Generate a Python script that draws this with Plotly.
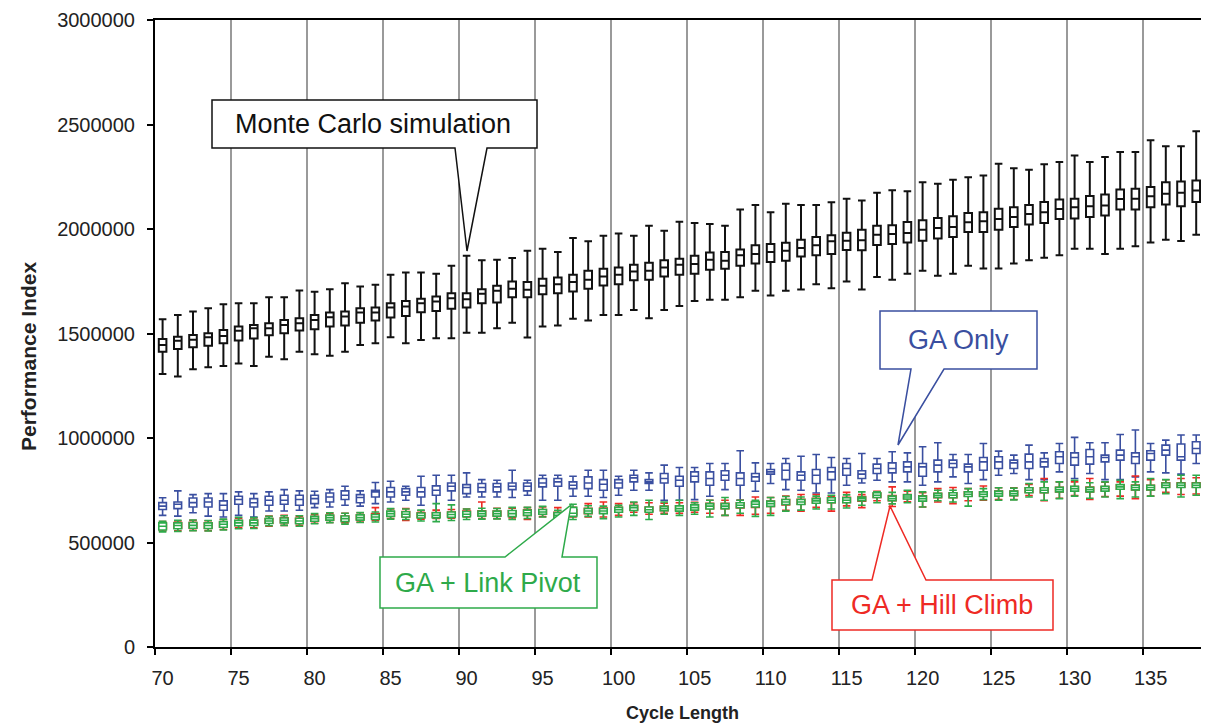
import plotly.graph_objects as go
import numpy as np

# Cycle lengths (categories)
cycle = list(range(70, 140))
tick_vals = list(range(70, 140, 5))
tick_text = [str(v) for v in tick_vals]
y_ticks = [0, 500000, 1000000, 1500000, 2000000, 2500000, 3000000]

# ---- Values in thousands (Performance Index / 1000) ----
# Monte Carlo simulation (black)
mc_min = [1306,1294,1329,1338,1345,1357,1345,1389,1377,1413,1401,1393,1413,1445,1453,1482,1453,1469,1477,1477,
          1504,1504,1525,1552,1481,1533,1538,1570,1562,1589,1589,1613,1573,1613,1632,1656,1661,1661,1674,1704,
          1682,1704,1711,1736,1717,1749,1710,1770,1757,1786,1800,1776,1786,1824,1811,1811,1835,1850,1863,1874,
          1906,1906,1880,1906,1917,1936,1949,1942,1973,2002]
mc_q1 = [1413,1426,1434,1441,1453,1466,1476,1492,1501,1514,1520,1533,1538,1552,1562,1576,1584,1602,1608,1618,
         1624,1645,1648,1674,1674,1688,1693,1701,1714,1730,1736,1755,1757,1773,1781,1786,1805,1810,1824,1835,
         1842,1848,1869,1874,1880,1899,1898,1923,1928,1936,1944,1954,1962,1986,1986,1997,2010,2021,2029,2048,
         2050,2058,2064,2093,2093,2104,2117,2109,2129,2145]
mc_med = [1445,1465,1470,1482,1488,1513,1525,1525,1541,1549,1565,1578,1581,1600,1600,1624,1629,1645,1653,1669,
          1664,1690,1705,1714,1709,1728,1736,1746,1757,1773,1781,1797,1800,1816,1829,1832,1853,1848,1874,1880,
          1890,1896,1909,1922,1941,1944,1946,1973,1976,1981,1997,2005,2010,2032,2037,2048,2058,2072,2080,2096,
          2104,2109,2112,2144,2145,2157,2169,2173,2184,2205]
mc_q3 = [1474,1485,1493,1501,1517,1533,1541,1549,1565,1573,1589,1600,1605,1621,1624,1645,1656,1666,1677,1693,
         1693,1712,1728,1749,1746,1762,1768,1781,1800,1810,1816,1829,1839,1851,1858,1872,1888,1890,1902,1922,
         1928,1934,1949,1962,1970,1982,1997,2016,2018,2034,2042,2053,2061,2077,2080,2097,2104,2115,2129,2141,
         2145,2158,2165,2189,2193,2201,2224,2227,2232,2253]
mc_max = [1568,1589,1605,1621,1640,1645,1645,1674,1674,1706,1700,1712,1741,1725,1733,1781,1792,1792,1786,1824,
          1872,1850,1853,1861,1896,1906,1890,1957,1941,1968,1979,1968,2016,1992,2035,2029,2024,2016,2093,2115,
          2080,2121,2115,2115,2128,2145,2136,2173,2185,2181,2224,2216,2236,2248,2256,2312,2291,2284,2310,2321,
          2352,2321,2345,2369,2369,2425,2396,2396,2468,2409]

# GA Only (blue)
ga_min = [630,626,642,626,622,630,622,651,651,654,667,670,678,674,686,694,702,678,638,702,
          718,718,718,715,726,702,702,721,721,715,726,750,750,702,702,705,721,753,702,745,
          782,753,750,737,737,774,785,798,790,790,774,790,814,782,801,822,830,801,801,838,
          806,830,801,801,814,838,833,827,878,870]
ga_q1 = [658,662,670,670,654,683,670,678,683,678,686,694,706,690,718,718,726,718,726,747,
         734,742,742,753,747,766,769,758,758,750,761,790,782,785,769,790,774,798,774,793,
         827,801,798,782,801,822,806,830,833,838,817,838,859,838,846,854,854,854,862,878,
         870,875,886,894,878,894,918,894,926,913]
ga_med = [674,683,691,694,678,706,690,702,702,706,710,718,726,715,742,742,742,742,750,769,
          763,763,766,769,769,785,790,774,785,779,785,809,790,806,798,817,806,822,806,814,
          838,846,822,822,838,854,827,854,854,862,862,870,878,862,886,886,881,886,886,910,
          907,910,907,918,910,926,942,910,950,942]
ga_q3 = [691,694,713,713,699,721,710,721,726,726,726,737,747,729,750,763,758,763,771,785,
         777,782,782,785,785,806,806,790,814,801,801,822,801,830,817,838,838,843,833,830,
         849,878,838,849,859,878,843,875,881,886,878,894,894,875,907,910,894,923,902,934,
         929,945,918,942,929,939,966,971,982,958]
ga_max = [714,747,729,734,734,742,734,742,753,747,745,753,769,747,787,793,769,817,822,822,
          833,801,798,846,798,822,822,817,846,846,817,846,833,870,859,859,878,878,939,881,
          878,902,913,921,907,902,926,902,934,929,958,977,921,921,974,937,918,966,929,974,
          1003,977,977,1017,1038,974,990,1014,1014,998]

# GA + Link Pivot (green)
lp_min = [551,553,556,555,560,566,567,580,582,578,590,595,588,596,598,612,610,603,600,605,
          610,612,613,610,615,622,606,610,625,614,622,630,610,635,630,635,622,630,640,625,
          630,650,655,660,660,665,678,690,685,690,670,700,694,674,705,702,704,718,702,710,
          722,712,718,710,718,722,734,718,726,758]
lp_q1 = [560,566,568,567,573,580,581,591,594,590,602,607,600,607,610,625,622,617,618,620,
         623,626,626,624,630,635,618,625,639,638,645,653,645,652,650,655,660,662,666,670,
         673,682,682,688,690,690,700,715,700,708,698,716,714,720,720,722,724,738,738,742,
         746,742,746,755,752,752,763,763,763,779]
lp_med = [578,581,582,581,587,594,594,603,606,603,614,619,614,619,622,638,635,629,630,634,
          635,638,638,638,642,646,630,640,651,651,657,667,657,662,662,667,674,674,678,683,
          686,694,694,699,702,702,710,726,710,718,710,726,726,731,731,734,734,750,750,753,
          758,753,758,766,763,763,774,774,774,790]
lp_q3 = [594,594,596,594,600,606,607,614,617,616,625,631,627,632,634,650,647,641,642,646,
         648,650,650,653,655,658,643,668,663,663,668,677,670,673,675,680,686,686,690,695,
         698,706,706,710,714,714,718,738,722,728,722,736,738,742,742,746,746,762,762,764,
         769,764,769,777,774,774,785,785,785,801]
lp_max = [602,606,608,605,612,620,619,625,628,628,638,642,640,643,646,662,660,655,686,680,
          660,664,663,668,668,673,654,683,676,674,678,694,702,694,702,690,702,715,702,702,
          715,720,718,722,726,728,742,742,740,750,742,750,750,758,758,762,760,782,790,790,
          798,786,790,798,790,806,801,822,822,838]

# GA + Hill Climb (red)
hc_min = [555,556,558,557,562,570,570,578,582,582,592,596,594,598,605,615,606,612,615,616,
          622,614,614,618,610,624,612,622,622,622,630,645,635,640,640,645,640,630,630,635,
          640,654,650,668,650,675,667,700,672,695,670,694,686,700,702,706,706,725,700,712,
          725,706,720,722,710,722,740,730,732,762]
hc_q1 = [565,568,570,569,574,582,583,592,595,593,603,608,604,610,616,626,622,620,621,624,
         630,628,627,628,630,636,620,632,638,640,646,656,648,652,653,656,662,662,665,668,
         672,680,683,690,690,692,698,715,700,710,700,714,714,722,722,724,724,740,738,742,
         746,742,748,755,752,752,764,764,764,780]
hc_med = [580,582,583,582,588,595,596,604,608,605,615,620,616,621,627,638,636,631,632,636,
          640,640,640,640,643,647,632,644,652,653,657,667,658,663,664,668,675,675,678,684,
          687,694,695,700,703,704,710,726,712,720,712,726,726,732,731,735,734,751,751,753,
          758,754,758,766,764,764,775,775,776,792]
hc_q3 = [592,595,595,594,598,605,606,614,618,616,624,630,626,631,638,648,648,642,643,646,
         650,652,651,652,656,658,645,656,664,665,668,678,670,674,676,680,688,688,690,696,
         698,706,707,712,714,716,720,736,725,730,724,736,738,742,742,746,746,762,762,764,
         768,765,768,776,775,774,786,786,786,802]
hc_max = [600,604,606,604,610,616,618,626,630,626,634,640,640,642,667,660,662,652,655,658,
          660,694,664,664,667,670,667,668,686,694,686,690,690,688,690,692,702,702,702,718,
          715,722,730,730,722,740,730,745,766,745,738,758,763,758,770,762,762,778,806,790,
          790,806,788,790,818,800,800,806,810,830]

BLACK = "#111111"
BLUE = "#3A4FA0"
GREEN = "#2EAA4A"
RED = "#EE2A24"
FONT = "Liberation Sans, Arial, sans-serif"

series = [
    ("Monte Carlo simulation", mc_min, mc_q1, mc_med, mc_q3, mc_max, BLACK, 2.0),
    ("GA Only", ga_min, ga_q1, ga_med, ga_q3, ga_max, BLUE, 1.6),
    ("GA + Hill Climb", hc_min, hc_q1, hc_med, hc_q3, hc_max, RED, 1.6),
    ("GA + Link Pivot", lp_min, lp_q1, lp_med, lp_q3, lp_max, GREEN, 1.6),
]

fig = go.Figure()
for name, mn, q1, md, q3, mx, col, lw in series:
    k = 1000
    fig.add_trace(go.Box(
        name=name, x=cycle,
        lowerfence=list(np.array(mn) * k), q1=list(np.array(q1) * k),
        median=list(np.array(md) * k), q3=list(np.array(q3) * k),
        upperfence=list(np.array(mx) * k),
        width=0.5, whiskerwidth=1,
        line=dict(color=col, width=lw), fillcolor="white",
        boxpoints=False, hoverinfo="skip",
    ))

# Page offset (default body margin of the html page)
OFF = 8
W, H = 1209 - OFF, 725 - OFF
# plot area in page pixels: left 155, right 1209, top 20, bottom 647
L, R, T, B = 155, 1209, 20, 647

def px(xp):
    return (xp - L) / (R - L)
def py(yp):
    return (B - yp) / (B - T)
def path(points):
    return "M " + " L ".join(f"{px(a):.5f},{py(b):.5f}" for a, b in points) + " Z"

callouts = [
    ("Monte Carlo simulation", BLACK,
     [(212, 100), (537, 100), (537, 148), (487, 148), (467, 251), (455, 148), (212, 148)], (373, 124)),
    ("GA Only", BLUE,
     [(880, 311), (1037, 311), (1037, 369), (944, 369), (898, 445), (911, 369), (880, 369)], (958, 340)),
    ("GA + Link Pivot", GREEN,
     [(380, 557), (505, 557), (571, 505), (562, 557), (597, 557), (597, 608), (380, 608)], (488, 583)),
    ("GA + Hill Climb", RED,
     [(832, 580), (872, 580), (890, 506), (926, 580), (1053, 580), (1053, 630), (832, 630)], (942, 605)),
]

shapes = []
annotations = []
for text, col, pts, (tx, ty) in callouts:
    shapes.append(dict(type="path", path=path(pts), xref="paper", yref="paper",
                       fillcolor="white", line=dict(color=col, width=1.5), layer="above"))
    annotations.append(dict(text=text, x=px(tx), y=py(ty), xref="paper", yref="paper",
                            showarrow=False, xanchor="center", yanchor="middle",
                            font=dict(family=FONT, size=27, color=col)))

annotations.append(dict(text="<b>Cycle Length</b>", x=px(682), y=py(713), xref="paper", yref="paper",
                        showarrow=False, xanchor="center", yanchor="middle",
                        font=dict(family=FONT, size=18, color="#222")))
annotations.append(dict(text="<b>Performance Index</b>", x=px(28), y=py(357), xref="paper", yref="paper",
                        showarrow=False, xanchor="center", yanchor="middle", textangle=-90,
                        font=dict(family=FONT, size=21, color="#222")))

grid_vals = [v - 0.5 for v in tick_vals]

fig.update_layout(
    width=W, height=H,
    margin=dict(l=L - OFF, r=0, t=T - OFF, b=H - (B - OFF), pad=0),
    paper_bgcolor="white", plot_bgcolor="white",
    showlegend=False, boxmode="overlay",
    font=dict(family=FONT, color="#222"),
    shapes=shapes, annotations=annotations,
    xaxis=dict(
        range=[69.5, 69.5 + (R - L) / 15.2],
        tickmode="array", tickvals=tick_vals, ticktext=tick_text,
        ticks="", showgrid=False, zeroline=False,
        showline=True, linecolor="black", linewidth=2, mirror=True,
        ticklabelstandoff=12,
        tickfont=dict(family=FONT, size=20, color="#222"),
        minor=dict(tickmode="array", tickvals=grid_vals, showgrid=True,
                   gridcolor="#9a9a9a", gridwidth=1.5,
                   ticks="outside", ticklen=6, tickwidth=2, tickcolor="black"),
    ),
    yaxis=dict(
        range=[0, 3000000], tickmode="array", tickvals=y_ticks,
        tickformat="d", ticks="outside", ticklen=6, tickwidth=2, tickcolor="black",
        showgrid=False, zeroline=False,
        showline=True, linecolor="black", linewidth=2,
        ticklabelstandoff=8,
        tickfont=dict(family=FONT, size=20, color="#222"),
    ),
)

fig.write_html("out.html")
